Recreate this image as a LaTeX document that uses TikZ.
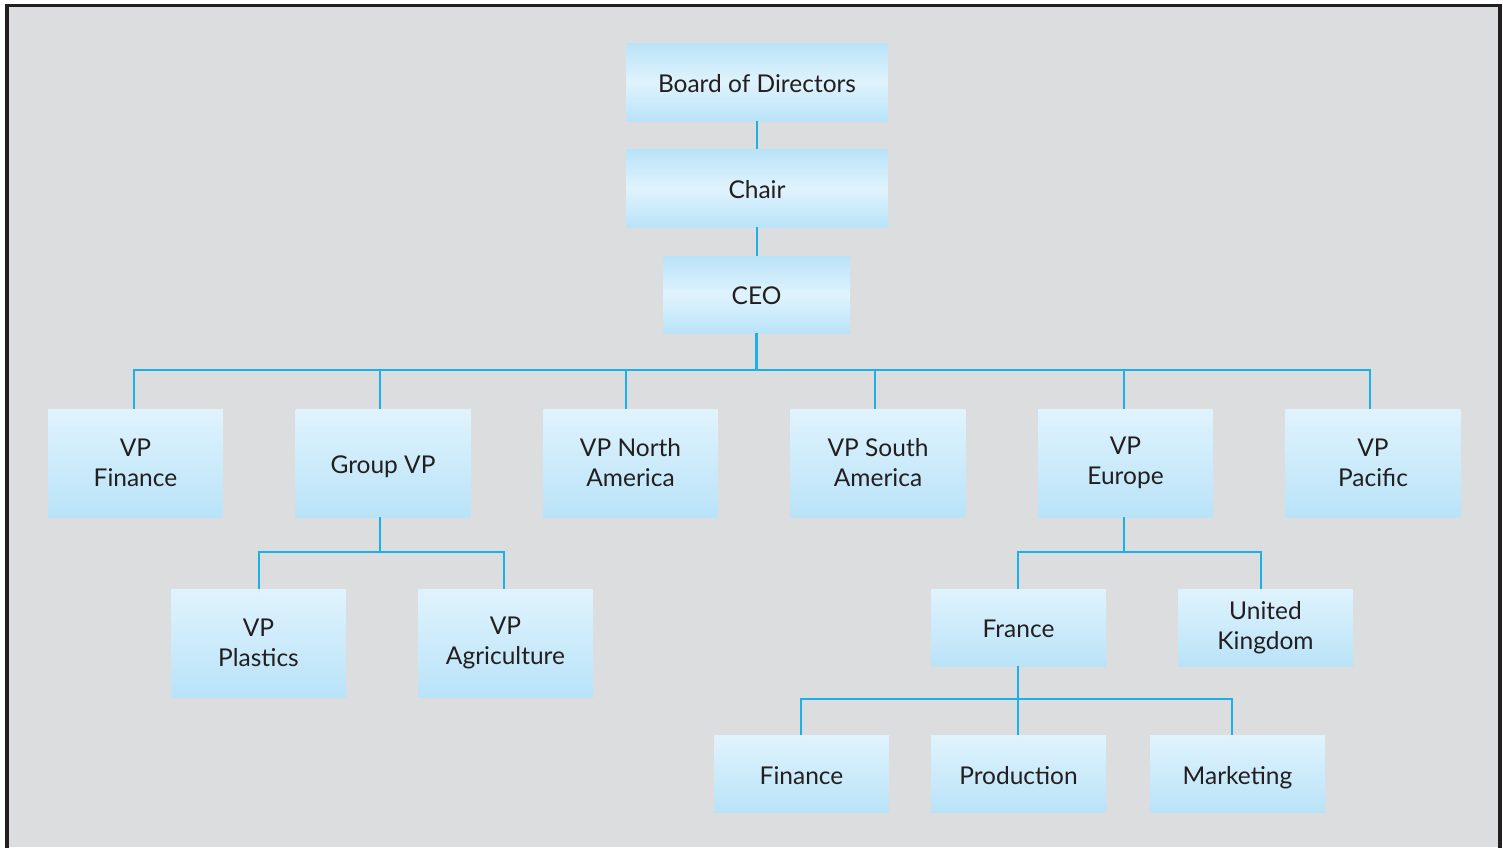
\documentclass[tikz,border=0pt]{standalone}
\usepackage{fontspec}
\setmainfont{Lato}
\definecolor{bg}{HTML}{DCDDDF}
\definecolor{frame}{HTML}{231F20}
\definecolor{wire}{HTML}{1AB0E8}
\definecolor{boxlight}{HTML}{E0F3FD}
\definecolor{boxblue}{HTML}{B9E3F8}
\definecolor{txt}{HTML}{231F20}
\begin{document}
\begin{tikzpicture}[x=1pt,y=-1pt,
  box/.style={inner sep=0pt,align=center,text=txt,
    font=\fontsize{24.5}{30}\selectfont,
    top color=boxlight,bottom color=boxblue},
  oneline/.style={text height=20pt,text depth=0pt},
  topbox/.style={box,oneline,top color=boxblue,bottom color=boxblue,middle color=boxlight},
  wbox/.style={box,minimum width=175pt,minimum height=108pt},
  sbox/.style={box,minimum width=175pt,minimum height=77pt},
  conn/.style={draw=wire,line width=2.6pt}]
\useasboundingbox (0,0) rectangle (1503,847);
\fill[bg] (7,5.5) rectangle (1500,847);
\draw[frame,line width=3.6pt] (7,860) -- (7,5.5) -- (1500,5.5) -- (1500,860);

% top column
\node[topbox,minimum width=262pt,minimum height=78pt] (board) at (757,82) {Board of Directors};
\node[topbox,minimum width=262pt,minimum height=78pt] (chair) at (757,188) {Chair};
\node[topbox,minimum width=187pt,minimum height=77pt] (ceo) at (756.5,294.5) {CEO};

% second level
\node[wbox] (vpfin) at (135.5,463) {VP\\Finance};
\node[wbox,oneline] (groupvp) at (383,463) {Group VP};
\node[wbox] (vpna) at (630.5,463) {VP North\\America};
\node[wbox] (vpsa) at (878,463) {VP South\\America};
\node[wbox] (vpeu) at (1125.5,463) {VP\\Europe};
\node[wbox] (vppac) at (1373,463) {VP\\Pacific};

% third level
\node[wbox] (vpplast) at (258.5,643) {VP\\Plastics};
\node[wbox] (vpagri) at (505.5,643) {VP\\Agriculture};
\node[sbox,oneline] (france) at (1018.5,627.5) {France};
\node[sbox] (uk) at (1265.5,627.5) {United\\Kingdom};

% fourth level
\node[sbox,oneline] (fin) at (801.5,774) {Finance};
\node[sbox,oneline] (prod) at (1018.5,774) {Production};
\node[sbox,oneline] (mkt) at (1237.5,774) {Marketing};

% bus coordinates
\coordinate (bus1) at (0,370);
\coordinate (bus2) at (0,552);
\coordinate (bus3) at (0,699);

% connectors
\draw[conn] (board.south) -- (chair.north);
\draw[conn] (chair.south) -- (chair.south |- ceo.north);
\draw[conn] (ceo.south) -- (ceo.south |- bus1);
\draw[conn] ([xshift=-1.5pt]vpfin.north) -- ([xshift=-1.5pt]vpfin.north |- bus1)
  -- ([xshift=-3pt]vppac.north |- bus1) -- ([xshift=-3pt]vppac.north);
\draw[conn] ([xshift=-3pt]groupvp.north) -- ([xshift=-3pt]groupvp.north |- bus1);
\draw[conn] ([xshift=-4.5pt]vpna.north) -- ([xshift=-4.5pt]vpna.north |- bus1);
\draw[conn] ([xshift=-3pt]vpsa.north) -- ([xshift=-3pt]vpsa.north |- bus1);
\draw[conn] ([xshift=-1.5pt]vpeu.north) -- ([xshift=-1.5pt]vpeu.north |- bus1);

\draw[conn] ([xshift=-3pt]groupvp.south) -- ([xshift=-3pt]groupvp.south |- bus2);
\draw[conn] ([xshift=0.5pt]vpplast.north) -- ([xshift=0.5pt]vpplast.north |- bus2)
  -- ([xshift=-1.5pt]vpagri.north |- bus2) -- ([xshift=-1.5pt]vpagri.north);

\draw[conn] ([xshift=-1.5pt]vpeu.south) -- ([xshift=-1.5pt]vpeu.south |- bus2);
\draw[conn] ([xshift=-0.5pt]france.north) -- ([xshift=-0.5pt]france.north |- bus2)
  -- ([xshift=-4.5pt]uk.north |- bus2) -- ([xshift=-4.5pt]uk.north);

\draw[conn] ([xshift=-0.5pt]fin.north) -- ([xshift=-0.5pt]fin.north |- bus3)
  -- ([xshift=-5.5pt]mkt.north |- bus3) -- ([xshift=-5.5pt]mkt.north);
\draw[conn] ([xshift=-0.5pt]france.south) -- ([xshift=-0.5pt]prod.north);
\end{tikzpicture}
\end{document}
